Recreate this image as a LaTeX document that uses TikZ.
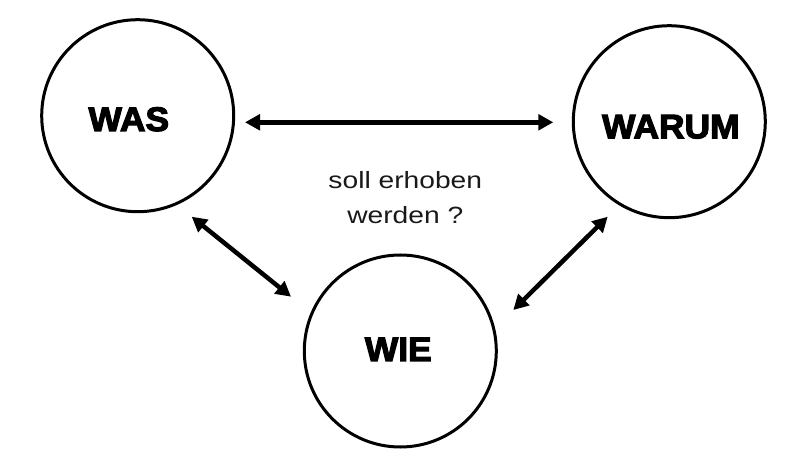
\documentclass[tikz,border=0pt]{standalone}
\usepackage{fontspec}
\setmainfont{Liberation Sans}
\newfontfamily\heavyfont{Liberation Sans}[BoldFeatures={FakeBold=3.5,FakeStretch=1.04}]
\newfontfamily\capfont{Liberation Sans}[FakeStretch=1.2]
\usetikzlibrary{arrows.meta,calc}
\begin{document}
\begin{tikzpicture}[x=1bp,y=-1bp,
  circ/.style={circle, draw, line width=3bp, minimum size=192bp, inner sep=0pt},
  lbl/.style={font=\heavyfont\bfseries\fontsize{34bp}{34bp}\selectfont, anchor=base, inner sep=0pt},
  qtext/.style={font=\capfont\fontsize{23.5bp}{34.3bp}\selectfont, align=center, anchor=base, inner sep=0pt, text=black!90},
  arr/.style={line width=4.5bp, {Triangle[length=15bp,width=15.5bp]}-{Triangle[length=15bp,width=15.5bp]}}]
\useasboundingbox (0,0) rectangle (797,465);
\node[circ] (was) at (137.7,115.7) {};
\node[circ] (warum) at (669.3,121.7) {};
\node[circ] (wie) at (400.3,351) {};
\node[lbl] (wastext) at (128.8,131) {WAS};
\node[lbl] (warumtext) at (670.8,138.3) {WARUM};
\node[lbl] (wietext) at (398.3,361) {WIE};
\node[qtext] (question) at (405.3,223.3) {soll erhoben\\werden ?};
\draw[arr] ($(was.center)+(107.3,6.6)$) -- ($(warum.center)+(-116,0.6)$);
\draw[arr] ($(was.center)+(54,101)$) -- ($(wie.center)+(-109.3,-54.3)$);
\draw[arr] ($(warum.center)+(-61.6,95)$) -- ($(wie.center)+(113,-41)$);
\end{tikzpicture}
\end{document}
